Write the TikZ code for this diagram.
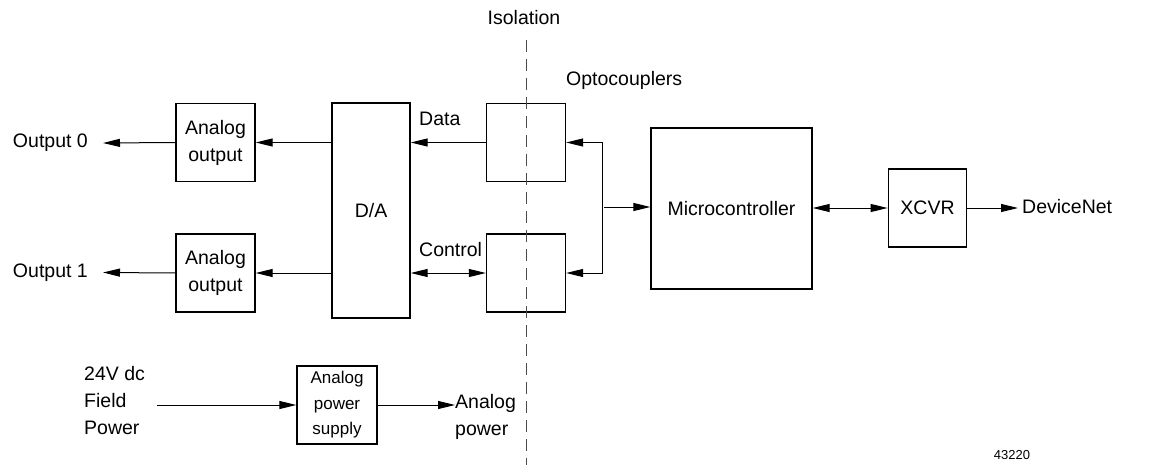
\documentclass[tikz,border=0pt]{standalone}
\usepackage{fontspec}
\setmainfont{Liberation Sans}
\usetikzlibrary{arrows.meta}
\begin{document}
\begin{tikzpicture}[x=1pt,y=-1pt,
  box/.style={draw,line width=1.3pt,rectangle,inner sep=0pt,align=center,
    font=\fontsize{19.5}{27}\selectfont},
  lbl/.style={inner sep=0pt,align=center,font=\fontsize{19.5}{27}\selectfont},
  conn/.style={line width=1pt,-{Triangle[length=17pt,width=8pt]}},
  bconn/.style={line width=1pt,{Triangle[length=17pt,width=8pt]}-{Triangle[length=17pt,width=8pt]}},
  iso/.style={line width=1pt,black!70,dash pattern=on 12pt off 7pt}
]
\useasboundingbox (0,0) rectangle (1155,465);
% boxes
\node[box,minimum width=79pt,minimum height=78pt] (ao0) at (215.5,142.5) {Analog\\output};
\node[box,minimum width=79pt,minimum height=78pt] (ao1) at (215.5,273) {Analog\\output};
\node[box,minimum width=78pt,minimum height=215pt] (da) at (371,210.5) {D/A};
\node[box,minimum width=79pt,minimum height=78pt] (ot) at (526,142.5) {};
\node[box,minimum width=79pt,minimum height=78pt] (ob) at (526,273) {};
\node[box,minimum width=161pt,minimum height=161pt] (mc) at (731.5,208.5) {Microcontroller};
\node[box,minimum width=78.5pt,minimum height=78pt] (xc) at (927.5,208) {XCVR};
\node[box,minimum width=80pt,minimum height=78pt,font=\fontsize{17}{25.5}\selectfont] (ps) at (337,405) {Analog\\power\\supply};
% labels
\node[lbl,anchor=east] (out0) at (88,143) {Output 0};
\node[lbl,anchor=east] (out1) at (88,272.5) {Output 1};
\node[lbl] (isol) at (524,18) {Isolation};
\node[lbl,anchor=west] (opto) at (566,80) {Optocouplers};
\node[lbl,anchor=west] (data) at (419,119) {Data};
\node[lbl,anchor=west] (ctrl) at (419,250) {Control};
\node[lbl,anchor=west,inner xsep=4pt] (dn) at (1018,207) {DeviceNet};
\node[lbl,anchor=west,align=left] (fp) at (84,401) {24V dc\\Field\\Power};
\node[lbl,anchor=west,align=left] (apow) at (455,417) {Analog\\power};
\node[lbl,font=\fontsize{13}{15}\selectfont] (num) at (1012,455) {43220};
% isolation line
\coordinate (isotop) at (526,40);
\coordinate (isobot) at (526,465);
\draw[iso] (isotop) -- (isobot);
% connectors
\draw[conn] (ao0.west) -- ([xshift=15pt]out0.east);
\draw[conn] (ao1.west) -- ([xshift=15pt]out1.east);
\draw[conn] (da.west |- ao0.east) -- (ao0.east);
\draw[conn] (da.west |- ao1.east) -- (ao1.east);
\draw[conn] (ot.west) -- (ot.west -| da.east);
\draw[bconn] (ob.west -| da.east) -- (ob.west);
\coordinate (br) at (602,207);
\draw[bconn] (ot.east) -- (ot.east -| br) -- (ob.east -| br) -- (ob.east);
\draw[conn] ([xshift=2pt]br) -- (br -| mc.west);
\draw[bconn] (mc.east |- xc.west) -- (xc.west);
\draw[conn] (xc.east) -- (xc.east -| dn.west);
\draw[conn] ([xshift=12pt]fp.east |- ps.west) -- (ps.west);
\draw[conn] (ps.east) -- (ps.east -| apow.west);
\end{tikzpicture}
\end{document}
